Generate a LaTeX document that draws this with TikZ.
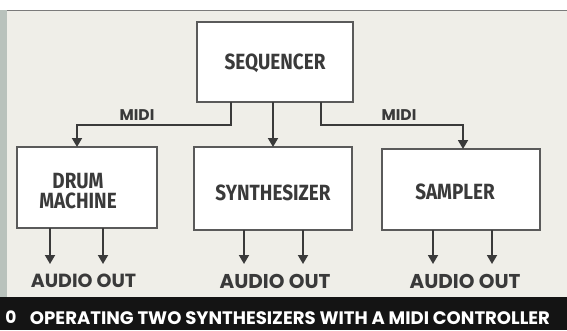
\documentclass[tikz,border=0pt]{standalone}
\usepackage{fontspec}
\usetikzlibrary{arrows.meta}
\newfontfamily\condfont[FakeStretch=0.86]{Fira Sans}
\newfontfamily\heavyfont{Poppins}
\definecolor{bgbeige}{HTML}{EFEEE8}
\definecolor{inkgray}{HTML}{3A3A3A}
\definecolor{boxline}{HTML}{5A5A5A}
\definecolor{stripgray}{HTML}{B9C2BC}
\begin{document}
\begin{tikzpicture}[x=1pt,y=-1pt,
  unitbox/.style={draw=boxline,line width=1.3pt,fill=white},
  boxlabel/.style={text=inkgray,font=\condfont\bfseries\fontsize{22}{20}\selectfont,align=center,inner sep=0pt},
  flow/.style={draw=inkgray,line width=1.8pt,-{Triangle[width=10pt,length=9pt]}},
  midilabel/.style={text=inkgray,font=\heavyfont\bfseries\fontsize{15.5}{15.5}\selectfont,inner sep=0pt},
  outlabel/.style={text=inkgray,font=\heavyfont\bfseries\fontsize{20}{20}\selectfont,inner sep=0pt}]
\useasboundingbox (0,0) rectangle (567,330);
% backgrounds
\fill[white] (0,0) rectangle (567,10);
\fill[bgbeige] (0,10) rectangle (567,297);
\draw[boxline!80,line width=1pt] (0,10.5) -- (567,10.5);
\fill[stripgray] (0,10) rectangle (7,297);
\fill[black!92] (0,297) rectangle (567,330);
% boxes
\fill[unitbox] (197,22) rectangle (353,102);
\node[boxlabel] (seq) at (275,63) {SEQUENCER};
\fill[unitbox] (17,147) rectangle (157,228);
\node[boxlabel] (drum) at (78,191) {DRUM\\MACHINE};
\fill[unitbox] (194,147) rectangle (352,230);
\node[boxlabel] (synth) at (273,193) {SYNTHESIZER};
\fill[unitbox] (382,149) rectangle (540,230);
\node[boxlabel] (samp) at (455,192) {SAMPLER};
% anchor coordinates
\coordinate (sqL) at (231,102);
\coordinate (sqM) at (273,102);
\coordinate (sqR) at (321,102);
\coordinate (drTop) at (77,147);
\coordinate (syTop) at (273,147);
\coordinate (saTop) at (463,149);
% MIDI connections
\draw[flow] (sqL) -- (231,125) -- (77,125) -- (drTop);
\draw[flow] (sqM) -- (syTop);
\draw[flow] (sqR) -- (321,125) -- (463,125) -- (saTop);
\node[midilabel] (midiL) at (137,115) {MIDI};
\node[midilabel] (midiR) at (399,115) {MIDI};
% audio outs
\node[outlabel,font=\heavyfont\bfseries\fontsize{19}{19}\selectfont] (aoD) at (83.5,281) {AUDIO OUT};
\node[outlabel] (aoS) at (275,281) {AUDIO OUT};
\node[outlabel] (aoP) at (465,281) {AUDIO OUT};
\coordinate (d1) at (50,228); \coordinate (d1e) at (50,264);
\coordinate (d2) at (103,228); \coordinate (d2e) at (103,264);
\coordinate (s1) at (244,230); \coordinate (s1e) at (244,264);
\coordinate (s2) at (303,230); \coordinate (s2e) at (303,264);
\coordinate (p1) at (433,230); \coordinate (p1e) at (433,264);
\coordinate (p2) at (492,230); \coordinate (p2e) at (492,264);
\foreach \a/\b in {d1/d1e,d2/d2e,s1/s1e,s2/s2e,p1/p1e,p2/p2e}
  \draw[flow] (\a) -- (\b);
% caption
\node[text=white,font=\heavyfont\bfseries\fontsize{17}{17}\selectfont,inner sep=0pt] (fignum) at (11,317) {0};
\node[text=white,inner sep=0pt] (caption) at (290,318)
  {\resizebox{520pt}{!}{\heavyfont\bfseries\fontsize{11}{11}\selectfont OPERATING TWO SYNTHESIZERS WITH A MIDI CONTROLLER}};
\end{tikzpicture}
\end{document}
